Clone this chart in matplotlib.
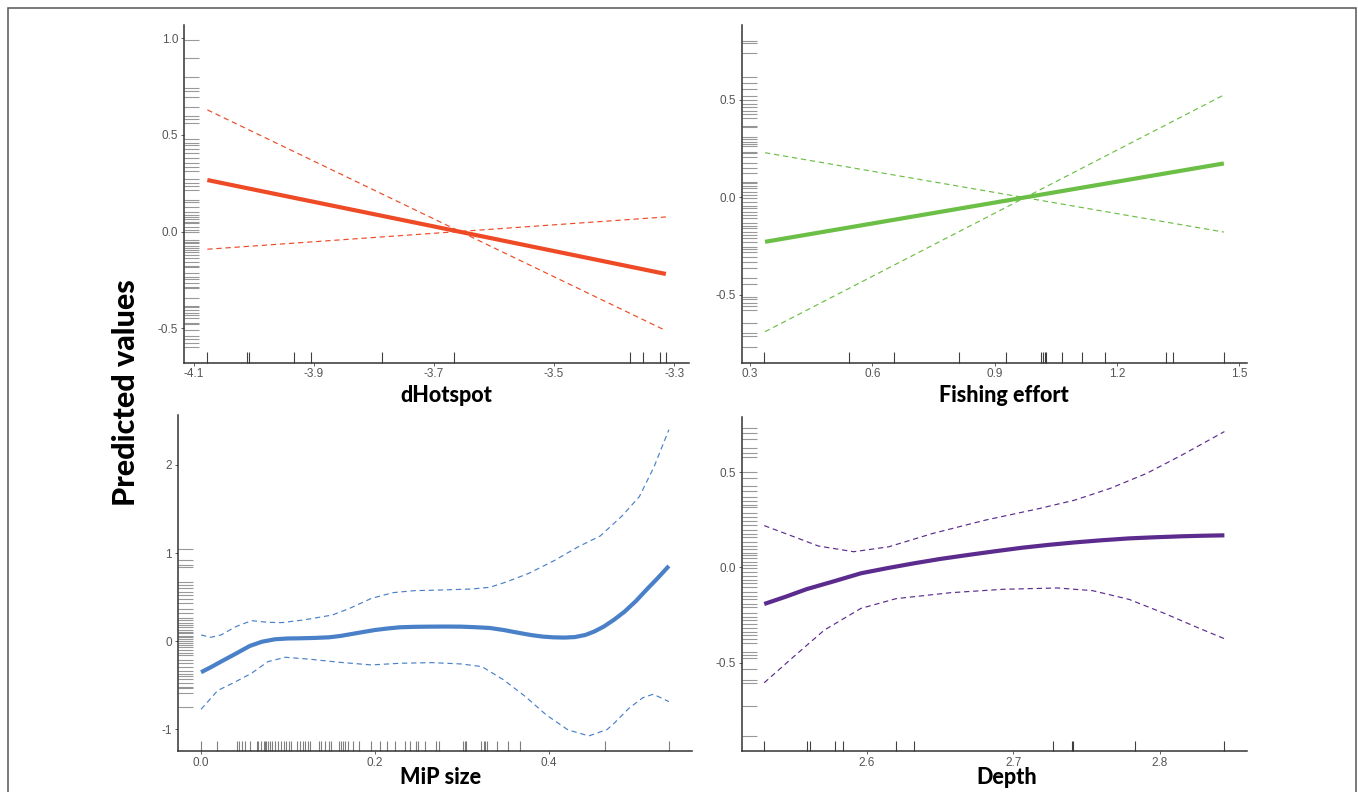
import numpy as np
import matplotlib
matplotlib.use("Agg")
import matplotlib.pyplot as plt
from matplotlib.patches import Rectangle

W, H = 1358, 792

# ---------------- data ----------------
# Panel 1: dHotspot
hot_x = [-4.077, -3.314]
hot_fit = [0.267, -0.219]
hot_ci_a = [0.630, -0.512]
hot_ci_b = [-0.091, 0.076]
hot_rug_x = [-4.077, -4.011, -4.007, -3.932, -3.905, -3.787, -3.667, -3.373, -3.352, -3.324, -3.313]
hot_rug_y = [0.991, 0.897, 0.802, 0.741, 0.729, 0.695, 0.647, 0.600, 0.584, 0.560, 0.479, 0.460,
             0.448, 0.429, 0.409, 0.379, 0.357, 0.336, 0.316, 0.271, 0.250, 0.236, 0.216, 0.164,
             0.155, 0.129, 0.103, 0.086, 0.078, 0.066, 0.052, 0.043, 0.026, 0.009, 0.000, -0.043,
             -0.052, -0.060, -0.074, -0.086, -0.095, -0.103, -0.121, -0.138, -0.155, -0.178,
             -0.184, -0.216, -0.233, -0.247, -0.267, -0.284, -0.293, -0.345, -0.384, -0.391,
             -0.405, -0.419, -0.431, -0.448, -0.471, -0.478, -0.509, -0.540, -0.557, -0.578, -0.598]

# Panel 2: Fishing effort
fish_x = [0.337, 1.462]
fish_fit = [-0.228, 0.174]
fish_ci_a = [0.229, -0.178]
fish_ci_b = [-0.689, 0.525]
fish_rug_x = [0.335, 0.543, 0.653, 0.812, 0.929, 1.014, 1.018, 1.023, 1.027, 1.066, 1.114,
              1.170, 1.320, 1.338, 1.463]
fish_rug_y = [0.803, 0.793, 0.738, 0.619, 0.585, 0.554, 0.520, 0.499, 0.479, 0.462, 0.444, 0.427,
              0.405, 0.366, 0.359, 0.311, 0.297, 0.285, 0.274, 0.263, 0.234, 0.226, 0.205, 0.174,
              0.149, 0.123, 0.080, 0.072, 0.058, 0.046, 0.029, 0.012, -0.005, -0.022, -0.044,
              -0.056, -0.074, -0.091, -0.108, -0.130, -0.147, -0.159, -0.176, -0.193, -0.210,
              -0.227, -0.253, -0.267, -0.279, -0.304, -0.330, -0.364, -0.415, -0.446, -0.509,
              -0.523, -0.540, -0.557, -0.578, -0.646, -0.697, -0.711, -0.769]

# Panel 3: MiP size
mip_fit_x = [0.000, 0.012, 0.023, 0.040, 0.056, 0.070, 0.085, 0.100, 0.114, 0.130, 0.147, 0.160,
             0.171, 0.185, 0.200, 0.215, 0.229, 0.245, 0.262, 0.280, 0.299, 0.315, 0.332, 0.348,
             0.364, 0.380, 0.393, 0.405, 0.418, 0.430, 0.442, 0.452, 0.463, 0.475, 0.487, 0.500,
             0.512, 0.525, 0.538]
mip_fit = [-0.351, -0.290, -0.230, -0.140, -0.053, -0.005, 0.023, 0.032, 0.034, 0.038, 0.045, 0.060,
           0.079, 0.103, 0.128, 0.146, 0.159, 0.164, 0.166, 0.167, 0.166, 0.160, 0.151, 0.128,
           0.098, 0.070, 0.053, 0.045, 0.042, 0.048, 0.072, 0.110, 0.166, 0.245, 0.336, 0.455,
           0.582, 0.715, 0.854]
mip_up_x = [0.000, 0.011, 0.023, 0.040, 0.058, 0.077, 0.093, 0.118, 0.151, 0.171, 0.196, 0.221,
            0.245, 0.278, 0.311, 0.332, 0.352, 0.377, 0.406, 0.434, 0.459, 0.484, 0.504, 0.521, 0.538]
mip_up = [0.072, 0.045, 0.072, 0.166, 0.234, 0.215, 0.212, 0.242, 0.298, 0.374, 0.487, 0.552,
          0.574, 0.582, 0.593, 0.612, 0.676, 0.771, 0.914, 1.073, 1.194, 1.420, 1.640, 1.980, 2.400]
mip_lo_x = [0.000, 0.019, 0.040, 0.058, 0.077, 0.097, 0.126, 0.159, 0.196, 0.229, 0.266, 0.299,
            0.323, 0.348, 0.373, 0.397, 0.422, 0.446, 0.467, 0.475, 0.492, 0.508, 0.520, 0.538]
mip_lo = [-0.771, -0.559, -0.457, -0.363, -0.230, -0.181, -0.204, -0.238, -0.268, -0.249, -0.242,
          -0.257, -0.287, -0.438, -0.627, -0.835, -1.005, -1.073, -1.000, -0.930, -0.760, -0.640,
          -0.600, -0.684]
mip_rug_x = [0.000, 0.018, 0.041, 0.044, 0.047, 0.051, 0.056, 0.064, 0.066, 0.069, 0.072, 0.074,
             0.075, 0.077, 0.079, 0.082, 0.085, 0.088, 0.092, 0.095, 0.098, 0.101, 0.103, 0.110,
             0.114, 0.117, 0.120, 0.123, 0.125, 0.136, 0.138, 0.143, 0.147, 0.149, 0.159, 0.161,
             0.163, 0.166, 0.169, 0.175, 0.182, 0.196, 0.206, 0.214, 0.223, 0.235, 0.240, 0.247,
             0.249, 0.257, 0.270, 0.274, 0.301, 0.303, 0.305, 0.322, 0.325, 0.327, 0.329, 0.340,
             0.353, 0.367, 0.464, 0.538]
mip_rug_y = [1.046, 0.922, 0.865, 0.846, 0.676, 0.638, 0.601, 0.563, 0.525, 0.476, 0.431, 0.363,
             0.317, 0.261, 0.242, 0.212, 0.185, 0.159, 0.128, 0.110, 0.091, 0.060, 0.045, 0.023,
             0.008, -0.015, -0.042, -0.068, -0.098, -0.128, -0.155, -0.212, -0.249, -0.287,
             -0.332, -0.370, -0.393, -0.431, -0.468, -0.514, -0.533, -0.582, -0.740]

# Panel 4: Depth
dep_fit_x = [2.530, 2.545, 2.559, 2.578, 2.596, 2.614, 2.632, 2.650, 2.669, 2.688, 2.706, 2.724,
             2.742, 2.760, 2.779, 2.797, 2.815, 2.830, 2.844]
dep_fit = [-0.192, -0.153, -0.114, -0.072, -0.031, -0.004, 0.021, 0.044, 0.065, 0.085, 0.103, 0.118,
           0.131, 0.142, 0.152, 0.158, 0.163, 0.166, 0.168]
dep_up_x = [2.530, 2.547, 2.567, 2.591, 2.615, 2.645, 2.681, 2.718, 2.742, 2.766, 2.791, 2.815, 2.844]
dep_up = [0.219, 0.170, 0.112, 0.082, 0.108, 0.178, 0.248, 0.309, 0.353, 0.414, 0.493, 0.589, 0.712]
dep_lo_x = [2.530, 2.550, 2.571, 2.596, 2.620, 2.657, 2.693, 2.730, 2.754, 2.779, 2.803, 2.827, 2.844]
dep_lo = [-0.605, -0.469, -0.329, -0.215, -0.164, -0.133, -0.115, -0.108, -0.122, -0.168, -0.241,
          -0.320, -0.374]
dep_rug_x = [2.530, 2.559, 2.561, 2.578, 2.584, 2.620, 2.632, 2.727, 2.740, 2.741, 2.783, 2.844]
dep_rug_y = [0.729, 0.703, 0.671, 0.624, 0.598, 0.577, 0.502, 0.467, 0.427, 0.402, 0.371, 0.350,
             0.327, 0.315, 0.287, 0.266, 0.245, 0.222, 0.196, 0.175, 0.157, 0.135, 0.112, 0.094,
             0.077, 0.065, 0.047, 0.030, 0.012, -0.005, -0.023, -0.045, -0.066, -0.084, -0.101,
             -0.128, -0.150, -0.168, -0.192, -0.210, -0.238, -0.259, -0.276, -0.297, -0.320,
             -0.337, -0.355, -0.378, -0.399, -0.442, -0.460, -0.477, -0.535, -0.591, -0.605,
             -0.727, -0.885]

x_labels = ["dHotspot", "Fishing effort", "MiP size", "Depth"]
y_label = "Predicted values"

# ---------------- figure ----------------
fig = plt.figure(figsize=(W / 100, H / 100), dpi=100)
fig.patch.set_facecolor("white")

def box(l, r, t, b):
    return [l / W, (H - b) / H, (r - l) / W, (b - t) / H]

TICK_FONT = ["Liberation Sans", "DejaVu Sans"]
LABEL_FONT = ["Lato", "DejaVu Sans"]

def style(ax, xlim, ylim, xticks, xtl, yticks, ytl):
    ax.set_xlim(*xlim)
    ax.set_ylim(*ylim)
    for s in ("top", "right"):
        ax.spines[s].set_visible(False)
    for s in ("left", "bottom"):
        ax.spines[s].set_color("#333333")
        ax.spines[s].set_linewidth(1.1)
    ax.set_xticks(xticks)
    ax.set_xticklabels(xtl)
    ax.set_yticks(yticks)
    ax.set_yticklabels(ytl)
    ax.tick_params(axis="both", length=2.5, width=0.6, color="#444444",
                   labelsize=8.5, labelcolor="#555555", pad=1.5)
    for lab in ax.get_xticklabels() + ax.get_yticklabels():
        lab.set_fontfamily(TICK_FONT)
    ax.patch.set_alpha(0)

def rugs(ax, rx, ry, l, r, t, b, xalpha=0.75, yalpha=0.4):
    wpx = r - l
    hpx = b - t
    ax.vlines(rx, 0, 10.5 / hpx, transform=ax.get_xaxis_transform(),
              colors="black", alpha=xalpha, linewidth=0.8, clip_on=False)
    ax.hlines(ry, 0, 15 / wpx, transform=ax.get_yaxis_transform(),
              colors="black", alpha=yalpha, linewidth=0.8, clip_on=False)

DASH = (0, (4.5, 3.2))
FIT_LW = 3.0
CI_LW = 0.85

# Panel 1
p1 = (183.9, 689.3, 25, 362.7)
ax1 = fig.add_axes(box(*p1))
c1 = "#EE4A26"
ax1.plot(hot_x, hot_ci_a, color=c1, lw=CI_LW, ls=DASH)
ax1.plot(hot_x, hot_ci_b, color=c1, lw=CI_LW, ls=DASH)
ax1.plot(hot_x, hot_fit, color=c1, lw=FIT_LW, solid_capstyle="butt")
style(ax1, (-4.116, -3.275), (-0.678, 1.069),
      [-4.1, -3.9, -3.7, -3.5, -3.3], ["-4.1", "-3.9", "-3.7", "-3.5", "-3.3"],
      [-0.5, 0.0, 0.5, 1.0], ["-0.5", "0.0", "0.5", "1.0"])
rugs(ax1, hot_rug_x, hot_rug_y, *p1)

# Panel 2
p2 = (741.8, 1247.1, 25, 362.7)
ax2 = fig.add_axes(box(*p2))
c2 = "#6CBF46"
ax2.plot(fish_x, fish_ci_a, color=c2, lw=CI_LW, ls=DASH)
ax2.plot(fish_x, fish_ci_b, color=c2, lw=CI_LW, ls=DASH)
ax2.plot(fish_x, fish_fit, color=c2, lw=FIT_LW, solid_capstyle="butt")
style(ax2, (0.280, 1.519), (-0.848, 0.884),
      [0.3, 0.6, 0.9, 1.2, 1.5], ["0.3", "0.6", "0.9", "1.2", "1.5"],
      [-0.5, 0.0, 0.5], ["-0.5", "0.0", "0.5"])
rugs(ax2, fish_rug_x, fish_rug_y, *p2)

# Panel 3
p3 = (177.5, 692.1, 415, 751)
ax3 = fig.add_axes(box(*p3))
c3 = "#4A80C8"
ax3.plot(mip_up_x, mip_up, color=c3, lw=CI_LW, ls=DASH)
ax3.plot(mip_lo_x, mip_lo, color=c3, lw=CI_LW, ls=DASH)
ax3.plot(mip_fit_x, mip_fit, color=c3, lw=FIT_LW, solid_capstyle="butt")
style(ax3, (-0.0271, 0.5647), (-1.244, 2.566),
      [0.0, 0.2, 0.4], ["0.0", "0.2", "0.4"],
      [-1, 0, 1, 2], ["-1", "0", "1", "2"])
rugs(ax3, mip_rug_x, mip_rug_y, *p3, xalpha=0.5)

# Panel 4
p4 = (741.8, 1247.1, 417.3, 751)
ax4 = fig.add_axes(box(*p4))
c4 = "#5C2B8E"
ax4.plot(dep_up_x, dep_up, color=c4, lw=CI_LW, ls=DASH)
ax4.plot(dep_lo_x, dep_lo, color=c4, lw=CI_LW, ls=DASH)
ax4.plot(dep_fit_x, dep_fit, color=c4, lw=FIT_LW, solid_capstyle="butt")
style(ax4, (2.5147, 2.8595), (-0.963, 0.787),
      [2.6, 2.7, 2.8], ["2.6", "2.7", "2.8"],
      [-0.5, 0.0, 0.5], ["-0.5", "0.0", "0.5"])
rugs(ax4, dep_rug_x, dep_rug_y, *p4)

# axis titles
label_pos = [(446, 396), (1004, 396), (441, 778), (1007, 778)]
for txt, (px, py) in zip(x_labels, label_pos):
    fig.text(px / W, 1 - py / H, txt, ha="center", va="center",
             fontsize=15.5, fontweight="black", family=LABEL_FONT, color="black")

fig.text(126 / W, 1 - 393 / H, y_label, rotation=90, ha="center", va="center",
         fontsize=22, fontweight="black", family=LABEL_FONT, color="black")

# outer frame
fig.add_artist(Rectangle((8 / W, -0.05), (1356 - 8) / W, (H - 8) / H + 0.05,
                         transform=fig.transFigure, fill=False,
                         edgecolor="#555555", linewidth=1.1, clip_on=False))

fig.savefig("out.png", dpi=100, facecolor="white")
